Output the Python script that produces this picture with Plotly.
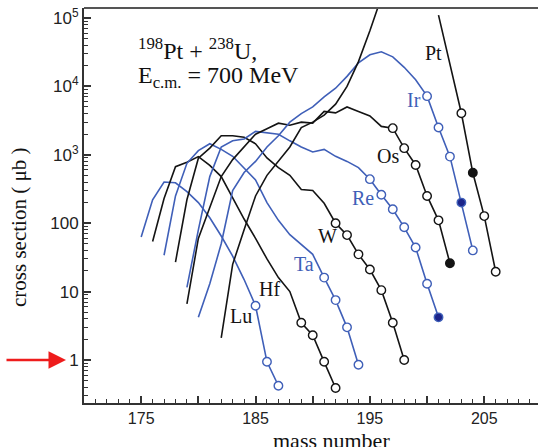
import plotly.graph_objects as go

# ---------------- data ----------------
lu_mass = list(range(175, 188))
lu_val = [63, 220, 400, 390, 290, 200, 120, 65, 33, 15, 6.2, 0.94, 0.42]

hf_mass = list(range(176, 193))
hf_val = [54, 230, 670, 780, 940, 700, 480, 230, 115, 60, 30, 16, 10, 3.5, 2.3, 0.94, 0.39]

ta_mass = list(range(177, 195))
ta_val = [34, 250, 750, 1150, 1450, 1200, 950, 650, 430, 200, 110, 68, 48, 35, 16, 7.5, 3.0, 0.85]

w_mass = list(range(178, 199))
w_val = [27, 220, 890, 1250, 1900, 1900, 1800, 1450, 900, 650, 500, 310, 300, 195,
         100, 67, 35, 21, 10.5, 3.5, 1.0]

re_mass = list(range(179, 202))
re_val = [11.5, 80, 480, 1300, 1600, 1700, 2200, 2100, 2000, 1600, 1300, 1100, 1200,
          950, 800, 650, 440, 260, 160, 87, 44, 13, 4.2]

os_mass = list(range(179, 203))
os_val = [6.6, 60, 170, 480, 850, 1300, 2000, 2400, 2900, 2700, 3000, 2900,
          4300, 4100, 5000, 4300, 3700, 2600, 2450, 1250, 710, 250, 110, 26]

ir_mass = list(range(180, 205))
ir_val = [4.2, 13, 50, 300, 550, 800, 1300, 1900, 3000, 4000, 5000, 7000, 9400,
          14000, 22000, 29000, 32000, 27000, 19000, 12500, 7200, 2500, 940, 200, 40]

pt_mass = list(range(182, 207))
pt_val = [2.1, 25, 80, 250, 500, 800, 1300, 2500, 3000, 3800, 5500, 10000, 23000,
          65000, 200000, None, None, None, None, 110000, 21000, 4050, 545, 127, 19.5]

# element: (name, mass, values, colour key, first marked mass, filled mass)
elements = [
    ("Lu", lu_mass, lu_val, "blue", 185, None),
    ("Hf", hf_mass, hf_val, "black", 189, None),
    ("Ta", ta_mass, ta_val, "blue", 191, None),
    ("W", w_mass, w_val, "black", 192, None),
    ("Re", re_mass, re_val, "blue", 195, 201),
    ("Os", os_mass, os_val, "black", 197, 202),
    ("Ir", ir_mass, ir_val, "blue", 200, 203),
    ("Pt", pt_mass, pt_val, "black", 203, 204),
]

x_tick_vals = [175, 180, 185, 190, 195, 200, 205]
x_tick_text = ["175", "", "185", "", "195", "", "205"]
y_tick_vals = [1, 10, 100, 1000, 10000, 100000]
y_tick_text = ["1", "10", "100", "10<sup>3</sup>", "10<sup>4</sup>", "10<sup>5</sup>"]

# ---------------- styling ----------------
BLUE = "#3f5fb8"
BLUE_FILL = "#1c248a"
BLACK = "#141414"
colors = {"blue": (BLUE, BLUE_FILL), "black": (BLACK, BLACK)}

W, H = 538, 447
ML, MR, MT, MB = 84, 0, 8, 44
PW, PH = W - ML - MR, H - MT - MB


def px2paper(px, py):
    return (px - ML) / PW, (H - MB - py) / PH


fig = go.Figure()

for name, mass, vals, ck, mfrom, filled in elements:
    lc, fc = colors[ck]
    fig.add_trace(go.Scatter(x=mass, y=vals, mode="lines",
                             line=dict(color=lc, width=1.6),
                             connectgaps=False, showlegend=False, hoverinfo="skip"))
    mx = [m for m, v in zip(mass, vals) if m >= mfrom and v is not None]
    my = [v for m, v in zip(mass, vals) if m >= mfrom and v is not None]
    mfill = [fc if m == filled else "white" for m in mx]
    fig.add_trace(go.Scatter(x=mx, y=my, mode="markers",
                             marker=dict(symbol="circle", size=8.5, color=mfill,
                                         line=dict(color=lc, width=1.4)),
                             showlegend=False, hoverinfo="skip", cliponaxis=False))

# element labels (pixel positions of label centres)
label_pos = {"Pt": (433, 53), "Ir": (414, 100), "Os": (388, 156), "Re": (363, 198),
             "W": (327, 236), "Ta": (304, 264), "Hf": (269, 289), "Lu": (241, 316)}
label_col = {"Pt": BLACK, "Ir": BLUE, "Os": BLACK, "Re": BLUE,
             "W": BLACK, "Ta": BLUE, "Hf": BLACK, "Lu": BLACK}
annotations = []
for nm, (px, py) in label_pos.items():
    xp, yp = px2paper(px, py)
    annotations.append(dict(text=nm, x=xp, y=yp, xref="paper", yref="paper",
                            xanchor="center", yanchor="middle", showarrow=False,
                            font=dict(family="Liberation Serif", size=20, color=label_col[nm])))

serif = dict(family="Liberation Serif", size=24, color="#111")
xp, yp = px2paper(136, 49)
annotations.append(dict(text="<sup>198</sup>Pt + <sup>238</sup>U,", x=xp, y=yp,
                        xref="paper", yref="paper", xanchor="left", yanchor="middle",
                        showarrow=False, font=serif))
xp, yp = px2paper(136, 77)
annotations.append(dict(text="E<sub>c.m.</sub> = 700 MeV", x=xp, y=yp,
                        xref="paper", yref="paper", xanchor="left", yanchor="middle",
                        showarrow=False, font=serif))
# axis titles
xp, yp = px2paper(331, 440)
annotations.append(dict(text="mass number", x=xp, y=yp, xref="paper", yref="paper",
                        xanchor="center", yanchor="middle", showarrow=False,
                        font=dict(family="Liberation Serif", size=22, color="#111")))
xp, yp = px2paper(19, 228)
annotations.append(dict(text="cross section ( \u03bcb )", x=xp, y=yp, xref="paper",
                        yref="paper", xanchor="center", yanchor="middle", textangle=-90,
                        showarrow=False,
                        font=dict(family="Liberation Serif", size=21, color="#111")))
# red arrow pointing at 1
xp, _ = px2paper(66, 0)
annotations.append(dict(text="", x=xp, y=0, xref="paper", yref="y", ax=-61, ay=0,
                        showarrow=True, arrowhead=2, arrowsize=1.4, arrowwidth=2.5,
                        arrowcolor="#ee1c1c"))

fig.update_layout(
    width=W, height=H, autosize=False,
    margin=dict(l=ML, r=MR, t=MT, b=MB),
    paper_bgcolor="white", plot_bgcolor="white",
    annotations=annotations,
    shapes=[dict(type="line", xref="paper", yref="paper", x0=0, x1=1.01, y0=1, y1=1,
                 line=dict(color="#555", width=2.2))],
)
fig.update_xaxes(range=[170, 209.7], showgrid=False, zeroline=False,
                 showline=True, linecolor="#333", linewidth=2,
                 tickmode="array", tickvals=x_tick_vals, ticktext=x_tick_text,
                 ticks="inside", ticklen=7, tickwidth=1.5, tickcolor="#333",
                 minor=dict(dtick=1, ticks="inside", ticklen=4, tickwidth=1.2, tickcolor="#333"),
                 tickfont=dict(family="Liberation Sans", size=16, color="#222"))
fig.update_yaxes(type="log", range=[-0.629, 5.146], showgrid=False, zeroline=False,
                 showline=True, linecolor="#333", linewidth=2,
                 tickmode="array", tickvals=y_tick_vals, ticktext=y_tick_text,
                 ticks="inside", ticklen=7, tickwidth=1.5, tickcolor="#333",
                 minor=dict(dtick="D1", ticks="inside", ticklen=4, tickwidth=1.1, tickcolor="#333"),
                 tickfont=dict(family="Liberation Sans", size=17, color="#222"))

fig.write_html("out.html")
